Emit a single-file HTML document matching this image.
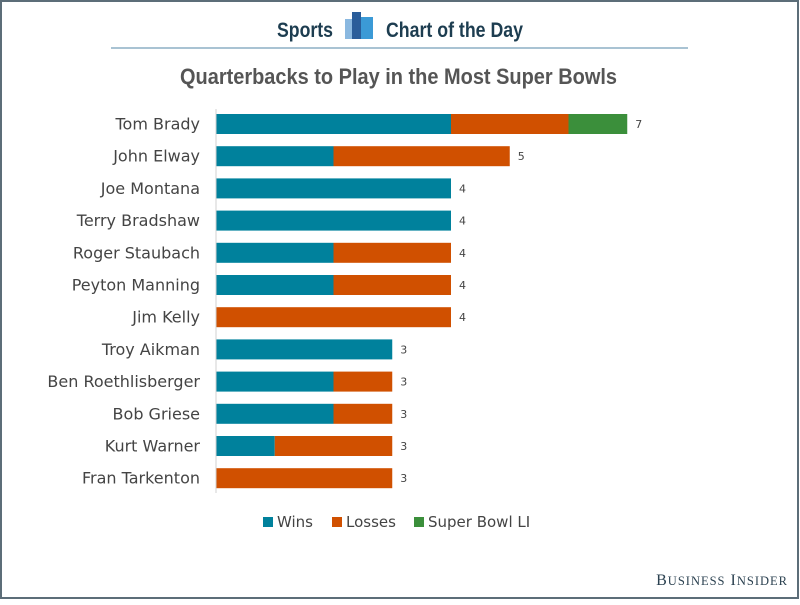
<!DOCTYPE html>
<html><head><meta charset="utf-8"><style>
body{margin:0;width:800px;height:600px;background:#fff;font-family:"Liberation Sans",sans-serif;overflow:hidden}
</style></head><body>
<svg width="800" height="600">
<rect x="1" y="1" width="797" height="597" fill="#fff" stroke="#5c6d78" stroke-width="2"/>
<text x="277" y="37" font-size="21" font-weight="bold" fill="#1d3d50" textLength="56" lengthAdjust="spacingAndGlyphs">Sports</text>
<g>
<rect x="345" y="19" width="10" height="20" fill="#8ab8e0"/><rect x="352" y="12" width="9" height="27" fill="#2a5d9a"/><rect x="361" y="17" width="12" height="22" fill="#3b9ad6"/></g>
<text x="386" y="37" font-size="21" font-weight="bold" fill="#1d3d50" textLength="137" lengthAdjust="spacingAndGlyphs">Chart of the Day</text>
<line x1="111" y1="48" x2="688" y2="48" stroke="#a9c3d3" stroke-width="2"/>
<text x="180" y="84" font-size="22" font-weight="bold" fill="#555" textLength="437" lengthAdjust="spacingAndGlyphs">Quarterbacks to Play in the Most Super Bowls</text>
<g id="bars"></g>
<line x1="216" y1="109" x2="216" y2="493" stroke="#d0d0d0"/>
<g font-family="DejaVu Sans, sans-serif">
<rect x="263" y="517" width="10" height="10" fill="#00819c"/>
<text x="277" y="527" font-size="15" fill="#444">Wins</text>
<rect x="332" y="517" width="10" height="10" fill="#d05000"/>
<text x="346" y="527" font-size="15" fill="#444">Losses</text>
<rect x="414" y="517" width="10" height="10" fill="#3b8f3b"/>
<text x="428" y="527" font-size="15" fill="#444">Super Bowl LI</text>
</g>
<text x="788" y="585" text-anchor="end" font-size="16" fill="#2b4150" font-family="Liberation Serif, serif" letter-spacing="1">B<tspan font-size="12.5">USINESS</tspan> I<tspan font-size="12.5">NSIDER</tspan></text>
</svg>
<script>
const players=["Tom Brady","John Elway","Joe Montana","Terry Bradshaw","Roger Staubach","Peyton Manning","Jim Kelly","Troy Aikman","Ben Roethlisberger","Bob Griese","Kurt Warner","Fran Tarkenton"];
const wins=[4,2,4,4,2,2,0,3,2,2,1,0];
const losses=[2,3,0,0,2,2,4,0,1,1,2,3];
const sb51=[1,0,0,0,0,0,0,0,0,0,0,0];
const NS="http://www.w3.org/2000/svg";
const x=v=>216+v*58.75;
const y=i=>124+i*32.2;
const g=document.getElementById('bars');
function mk(tag,a){const e=document.createElementNS(NS,tag);for(const k in a)e.setAttribute(k,a[k]);g.appendChild(e);return e;}
players.forEach((p,i)=>{
  const t=mk('text',{x:200,y:y(i)+5.5,'text-anchor':'end','font-size':16,fill:'#444','font-family':'DejaVu Sans, sans-serif'});t.textContent=p;
  
  
  let s=0;
  [[wins,'#00819c','bar-wins'],[losses,'#d05000','bar-losses'],[sb51,'#3b8f3b','bar-sb51']].forEach(([arr,c,n])=>{
    if(arr[i]>0){const r=mk('rect',{x:x(s),y:y(i)-10,width:x(s+arr[i])-x(s),height:20,fill:c});
      
      }
    s+=arr[i];
  });
  const v=mk('text',{x:x(s)+8,y:y(i)+4,'font-size':11,fill:'#444','font-family':'DejaVu Sans, sans-serif'});v.textContent=s;
  
  
});
</script>
</body></html>
